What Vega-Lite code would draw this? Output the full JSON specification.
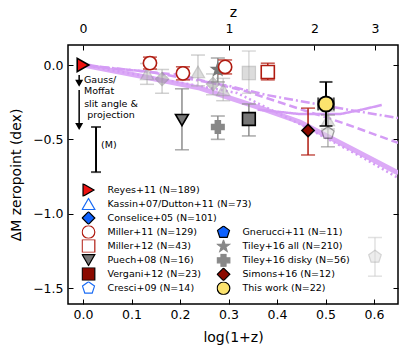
{
  "$schema": "https://vega.github.io/schema/vega-lite/v6.json",
  "width": 330,
  "height": 259,
  "autosize": {"type": "none"},
  "padding": {"left": 68, "top": 45, "right": 9, "bottom": 45},
  "background": "white",
  "config": {
    "font": "DejaVu Sans",
    "view": {"stroke": "black", "strokeWidth": 1.5},
    "axis": {"domain": false, "grid": false, "tickColor": "black", "tickWidth": 1, "tickSize": -5, "labelFontSize": 12.5, "titleFontSize": 14, "titleFontWeight": "normal", "labelColor": "black", "titleColor": "black", "labelFont": "DejaVu Sans", "titleFont": "DejaVu Sans"},
    "legend": {"labelFont": "DejaVu Sans", "labelFontSize": 9.5, "labelColor": "black", "symbolSize": 160, "symbolStrokeWidth": 1.2, "symbolOpacity": 1, "padding": 0, "rowPadding": 0, "clipHeight": 13.05, "labelOffset": 12}
  },
  "datasets": {
    "leg1": [{"s": "Reyes+11 (N=189)"}, {"s": "Kassin+07/Dutton+11 (N=73)"}, {"s": "Conselice+05 (N=101)"}, {"s": "Miller+11 (N=129)"}, {"s": "Miller+12 (N=43)"}, {"s": "Puech+08 (N=16)"}, {"s": "Vergani+12 (N=23)"}, {"s": "Cresci+09 (N=14)"}],
    "leg2": [{"s": "Gnerucci+11 (N=11)"}, {"s": "Tiley+16 all (N=210)"}, {"s": "Tiley+16 disky (N=56)"}, {"s": "Simons+16 (N=12)"}, {"s": "This work (N=22)"}],
    "lines": [
      {"l": "A", "x": 0, "y": 0}, {"l": "A", "x": 0.1175, "y": -0.074}, {"l": "A", "x": 0.241, "y": -0.155}, {"l": "A", "x": 0.365, "y": -0.289}, {"l": "A", "x": 0.447, "y": -0.383}, {"l": "A", "x": 0.551, "y": -0.558}, {"l": "A", "x": 0.65, "y": -0.726},
      {"l": "B", "x": 0, "y": 0}, {"l": "B", "x": 0.138, "y": -0.081}, {"l": "B", "x": 0.3175, "y": -0.188}, {"l": "B", "x": 0.447, "y": -0.397}, {"l": "B", "x": 0.586, "y": -0.639}, {"l": "B", "x": 0.65, "y": -0.76},
      {"l": "C", "x": 0.0144, "y": -0.007}, {"l": "C", "x": 0.2, "y": -0.067}, {"l": "C", "x": 0.334, "y": -0.175}, {"l": "C", "x": 0.536, "y": -0.39}, {"l": "C", "x": 0.65, "y": -0.524},
      {"l": "D", "x": 0, "y": 0}, {"l": "D", "x": 0.138, "y": -0.047}, {"l": "D", "x": 0.301, "y": -0.141}, {"l": "D", "x": 0.379, "y": -0.202}, {"l": "D", "x": 0.447, "y": -0.242}, {"l": "D", "x": 0.551, "y": -0.303}, {"l": "D", "x": 0.65, "y": -0.356},
      {"l": "E", "x": 0.36, "y": -0.3}, {"l": "E", "x": 0.447, "y": -0.33}, {"l": "E", "x": 0.53, "y": -0.33}, {"l": "E", "x": 0.571, "y": -0.303}, {"l": "E", "x": 0.616, "y": -0.269}
    ],
    "pts": [
      {"s": "kassin", "x": 0.132, "y": -0.06, "lo": -0.13, "hi": 0.01},
      {"s": "kassin", "x": 0.237, "y": -0.047, "lo": -0.14, "hi": 0.067},
      {"s": "kassin", "x": 0.289, "y": -0.168, "lo": -0.24, "hi": -0.09},
      {"s": "kassin", "x": 0.505, "y": -0.37, "lo": -0.43, "hi": -0.31},
      {"s": "conselice", "x": 0.163, "y": -0.094, "lo": -0.19, "hi": -0.03},
      {"s": "conselice", "x": 0.268, "y": -0.128, "lo": -0.2, "hi": -0.06},
      {"s": "cresci", "x": 0.505, "y": -0.457, "lo": -0.55, "hi": -0.336},
      {"s": "gnerucci", "x": 0.602, "y": -1.29, "lo": -1.42, "hi": -1.16},
      {"s": "other", "x": 0.342, "y": -0.054, "lo": -0.19, "hi": 0.094},
      {"s": "reyes", "x": 0, "y": 0},
      {"s": "miller11", "x": 0.138, "y": 0.013, "lo": -0.027, "hi": 0.053},
      {"s": "miller11", "x": 0.206, "y": -0.056, "lo": -0.1, "hi": -0.012},
      {"s": "tileyall", "x": 0.278, "y": -0.03, "lo": -0.114, "hi": 0.047},
      {"s": "miller11", "x": 0.293, "y": -0.013, "lo": -0.06, "hi": 0.034},
      {"s": "miller12", "x": 0.381, "y": -0.047, "lo": -0.1, "hi": 0.012},
      {"s": "puech", "x": 0.204, "y": -0.37, "lo": -0.57, "hi": -0.16},
      {"s": "vergani", "x": 0.342, "y": -0.363, "lo": -0.477, "hi": -0.262},
      {"s": "tileydisky", "x": 0.278, "y": -0.417, "lo": -0.5, "hi": -0.343},
      {"s": "simons", "x": 0.464, "y": -0.44, "lo": -0.605, "hi": -0.29},
      {"s": "thiswork", "x": 0.501, "y": -0.262, "lo": -0.41, "hi": -0.114, "xlo": 0.485, "xhi": 0.517}
    ]
  },
  "layer": [
    {
      "data": {"name": "leg1"},
      "transform": [{"filter": "false"}],
      "mark": {"type": "point", "strokeWidth": 1.2, "opacity": 1},
      "encoding": {
        "shape": {"field": "s", "type": "nominal", "scale": {"domain": ["Reyes+11 (N=189)", "Kassin+07/Dutton+11 (N=73)", "Conselice+05 (N=101)", "Miller+11 (N=129)", "Miller+12 (N=43)", "Puech+08 (N=16)", "Vergani+12 (N=23)", "Cresci+09 (N=14)"], "range": ["triangle-right", "triangle-up", "diamond", "circle", "square", "triangle-down", "square", "M0,-1L0.951,-0.309L0.588,0.809L-0.588,0.809L-0.951,-0.309Z"]}, "legend": {"title": null, "orient": "none", "legendX": 13.5, "legendY": 138.5}},
        "fill": {"field": "s", "type": "nominal", "scale": {"domain": ["Reyes+11 (N=189)", "Kassin+07/Dutton+11 (N=73)", "Conselice+05 (N=101)", "Miller+11 (N=129)", "Miller+12 (N=43)", "Puech+08 (N=16)", "Vergani+12 (N=23)", "Cresci+09 (N=14)"], "range": ["#ee1111", "#ffffff", "#0f62fe", "#ffffff", "#ffffff", "#777777", "#8b0a00", "#ffffff"]}, "legend": {"title": null, "orient": "none", "legendX": 13.5, "legendY": 138.5}},
        "stroke": {"field": "s", "type": "nominal", "scale": {"domain": ["Reyes+11 (N=189)", "Kassin+07/Dutton+11 (N=73)", "Conselice+05 (N=101)", "Miller+11 (N=129)", "Miller+12 (N=43)", "Puech+08 (N=16)", "Vergani+12 (N=23)", "Cresci+09 (N=14)"], "range": ["#000000", "#1a6cf5", "#000000", "#b01b10", "#b01b10", "#000000", "#000000", "#1a6cf5"]}, "legend": {"title": null, "orient": "none", "legendX": 13.5, "legendY": 138.5}}
      }
    },
    {
      "data": {"name": "leg2"},
      "transform": [{"filter": "false"}],
      "mark": {"type": "point", "strokeWidth": 1.2, "opacity": 1},
      "encoding": {
        "shape": {"field": "s", "type": "nominal", "scale": {"domain": ["Gnerucci+11 (N=11)", "Tiley+16 all (N=210)", "Tiley+16 disky (N=56)", "Simons+16 (N=12)", "This work (N=22)"], "range": ["M0,-1L0.951,-0.309L0.588,0.809L-0.588,0.809L-0.951,-0.309Z", "M0,-1L0.235,-0.324L0.951,-0.309L0.38,0.124L0.588,0.809L0,0.4L-0.588,0.809L-0.38,0.124L-0.951,-0.309L-0.235,-0.324Z", "cross", "diamond", "circle"]}, "legend": {"title": null, "orient": "none", "legendX": 148.5, "legendY": 180.8}},
        "fill": {"field": "s", "type": "nominal", "scale": {"domain": ["Gnerucci+11 (N=11)", "Tiley+16 all (N=210)", "Tiley+16 disky (N=56)", "Simons+16 (N=12)", "This work (N=22)"], "range": ["#0f62fe", "#888888", "#888888", "#8b0a00", "#fce36e"]}, "legend": {"title": null, "orient": "none", "legendX": 148.5, "legendY": 180.8}},
        "stroke": {"field": "s", "type": "nominal", "scale": {"domain": ["Gnerucci+11 (N=11)", "Tiley+16 all (N=210)", "Tiley+16 disky (N=56)", "Simons+16 (N=12)", "This work (N=22)"], "range": ["#000000", "#888888", "#888888", "#000000", "#000000"]}, "legend": {"title": null, "orient": "none", "legendX": 148.5, "legendY": 180.8}}
      }
    },
    {
      "data": {"name": "lines"},
      "transform": [{"filter": "datum.l == 'A'"}],
      "mark": {"type": "line", "strokeWidth": 5, "color": "#dcaaf7", "clip": true},
      "encoding": {
        "x": {"field": "x", "type": "quantitative", "scale": {"domain": [-0.031, 0.6495], "nice": false, "zero": false}, "axis": {"orient": "bottom", "values": [0, 0.1, 0.2, 0.3, 0.4, 0.5, 0.6], "format": ".1f", "title": "log(1+z)", "labelPadding": 9, "titlePadding": 10}},
        "y": {"field": "y", "type": "quantitative", "scale": {"domain": [-1.607, 0.1345], "nice": false, "zero": false}, "axis": {"orient": "left", "values": [-1.5, -1, -0.5, 0], "format": ".1f", "title": "ΔM zeropoint (dex)", "labelPadding": 10, "titlePadding": 9}}
      }
    },
    {
      "data": {"name": "lines"},
      "transform": [{"filter": "datum.l != 'A'"}],
      "mark": {"type": "line", "strokeWidth": 2.5, "color": "#d49cf5", "clip": true},
      "encoding": {
        "x": {"field": "x", "type": "quantitative", "axis": null},
        "y": {"field": "y", "type": "quantitative", "axis": null},
        "strokeDash": {"field": "l", "type": "nominal", "scale": {"domain": ["B", "C", "D", "E"], "range": [[2, 3], [8, 4], [9, 3, 2, 3], [1, 0]]}, "legend": null}
      }
    },
    {
      "data": {"name": "pts"},
      "transform": [{"filter": "indexof(['kassin','conselice','cresci','gnerucci','other'], datum.s) >= 0"}],
      "mark": {"type": "rule", "strokeWidth": 1.5, "opacity": 0.55},
      "encoding": {
        "x": {"field": "x", "type": "quantitative", "axis": null},
        "y": {"field": "lo", "type": "quantitative", "axis": null},
        "y2": {"field": "hi"},
        "color": {"field": "s", "type": "nominal", "scale": {"domain": ["kassin", "conselice", "cresci", "gnerucci", "other", "miller11", "miller12", "puech", "vergani", "tileyall", "tileydisky", "simons", "thiswork"], "range": ["#aaaaaa", "#aaaaaa", "#777777", "#c8c8c8", "#bbbbbb", "#b01b10", "#b01b10", "#8c8c8c", "#8c8c8c", "#8c8c8c", "#8c8c8c", "#b01b10", "#000000"]}, "legend": null}
      }
    },
    {
      "data": {"name": "pts"},
      "transform": [{"filter": "indexof(['kassin','conselice','cresci','gnerucci','other'], datum.s) >= 0"}],
      "mark": {"type": "tick", "orient": "horizontal", "size": 14, "thickness": 1.5, "opacity": 0.55},
      "encoding": {
        "x": {"field": "x", "type": "quantitative", "axis": null},
        "y": {"field": "lo", "type": "quantitative", "axis": null},
        "color": {"field": "s", "type": "nominal", "scale": {"domain": ["kassin", "conselice", "cresci", "gnerucci", "other", "miller11", "miller12", "puech", "vergani", "tileyall", "tileydisky", "simons", "thiswork"], "range": ["#aaaaaa", "#aaaaaa", "#777777", "#c8c8c8", "#bbbbbb", "#b01b10", "#b01b10", "#8c8c8c", "#8c8c8c", "#8c8c8c", "#8c8c8c", "#b01b10", "#000000"]}, "legend": null}
      }
    },
    {
      "data": {"name": "pts"},
      "transform": [{"filter": "indexof(['kassin','conselice','cresci','gnerucci','other'], datum.s) >= 0"}],
      "mark": {"type": "tick", "orient": "horizontal", "size": 14, "thickness": 1.5, "opacity": 0.55},
      "encoding": {
        "x": {"field": "x", "type": "quantitative", "axis": null},
        "y": {"field": "hi", "type": "quantitative", "axis": null},
        "color": {"field": "s", "type": "nominal", "scale": {"domain": ["kassin", "conselice", "cresci", "gnerucci", "other", "miller11", "miller12", "puech", "vergani", "tileyall", "tileydisky", "simons", "thiswork"], "range": ["#aaaaaa", "#aaaaaa", "#777777", "#c8c8c8", "#bbbbbb", "#b01b10", "#b01b10", "#8c8c8c", "#8c8c8c", "#8c8c8c", "#8c8c8c", "#b01b10", "#000000"]}, "legend": null}
      }
    },
    {
      "data": {"name": "pts"},
      "transform": [{"filter": "indexof(['kassin','conselice','cresci','gnerucci','other'], datum.s) >= 0"}],
      "mark": {"type": "point", "strokeWidth": 1.3, "opacity": 0.5, "size": 170},
      "encoding": {
        "x": {"field": "x", "type": "quantitative", "axis": null},
        "y": {"field": "y", "type": "quantitative", "axis": null},
        "shape": {"field": "s", "type": "nominal", "scale": {"domain": ["kassin", "conselice", "cresci", "gnerucci", "other"], "range": ["triangle-up", "diamond", "M0,-1L0.951,-0.309L0.588,0.809L-0.588,0.809L-0.951,-0.309Z", "M0,-1L0.951,-0.309L0.588,0.809L-0.588,0.809L-0.951,-0.309Z", "square"]}, "legend": null},
        "fill": {"field": "s", "type": "nominal", "scale": {"domain": ["kassin", "conselice", "cresci", "gnerucci", "other"], "range": ["#bbbbbb", "#999999", "#dddddd", "#dddddd", "#bbbbbb"]}, "legend": null},
        "stroke": {"field": "s", "type": "nominal", "scale": {"domain": ["kassin", "conselice", "cresci", "gnerucci", "other"], "range": ["#999999", "#888888", "#444444", "#aaaaaa", "#999999"]}, "legend": null}
      }
    },
    {
      "mark": {"type": "rule", "strokeDash": [2, 4.6], "strokeWidth": 1.8, "color": "black"},
      "encoding": {
        "x": {"datum": 0, "type": "quantitative", "axis": null},
        "x2": {"datum": 0.6495},
        "y": {"datum": 0, "type": "quantitative", "axis": null}
      }
    },
    {
      "data": {"name": "pts"},
      "transform": [{"filter": "indexof(['kassin','conselice','cresci','gnerucci','other','thiswork','reyes'], datum.s) < 0"}],
      "mark": {"type": "rule", "strokeWidth": 1.5},
      "encoding": {
        "x": {"field": "x", "type": "quantitative", "axis": null},
        "y": {"field": "lo", "type": "quantitative", "axis": null},
        "y2": {"field": "hi"},
        "color": {"field": "s", "type": "nominal", "scale": {"domain": ["kassin", "conselice", "cresci", "gnerucci", "other", "miller11", "miller12", "puech", "vergani", "tileyall", "tileydisky", "simons", "thiswork"], "range": ["#aaaaaa", "#aaaaaa", "#777777", "#c8c8c8", "#bbbbbb", "#b01b10", "#b01b10", "#8c8c8c", "#8c8c8c", "#8c8c8c", "#8c8c8c", "#b01b10", "#000000"]}, "legend": null}
      }
    },
    {
      "data": {"name": "pts"},
      "transform": [{"filter": "indexof(['kassin','conselice','cresci','gnerucci','other','thiswork','reyes'], datum.s) < 0"}],
      "mark": {"type": "tick", "orient": "horizontal", "size": 14, "thickness": 1.6},
      "encoding": {
        "x": {"field": "x", "type": "quantitative", "axis": null},
        "y": {"field": "lo", "type": "quantitative", "axis": null},
        "color": {"field": "s", "type": "nominal", "scale": {"domain": ["kassin", "conselice", "cresci", "gnerucci", "other", "miller11", "miller12", "puech", "vergani", "tileyall", "tileydisky", "simons", "thiswork"], "range": ["#aaaaaa", "#aaaaaa", "#777777", "#c8c8c8", "#bbbbbb", "#b01b10", "#b01b10", "#8c8c8c", "#8c8c8c", "#8c8c8c", "#8c8c8c", "#b01b10", "#000000"]}, "legend": null}
      }
    },
    {
      "data": {"name": "pts"},
      "transform": [{"filter": "indexof(['kassin','conselice','cresci','gnerucci','other','thiswork','reyes'], datum.s) < 0"}],
      "mark": {"type": "tick", "orient": "horizontal", "size": 14, "thickness": 1.6},
      "encoding": {
        "x": {"field": "x", "type": "quantitative", "axis": null},
        "y": {"field": "hi", "type": "quantitative", "axis": null},
        "color": {"field": "s", "type": "nominal", "scale": {"domain": ["kassin", "conselice", "cresci", "gnerucci", "other", "miller11", "miller12", "puech", "vergani", "tileyall", "tileydisky", "simons", "thiswork"], "range": ["#aaaaaa", "#aaaaaa", "#777777", "#c8c8c8", "#bbbbbb", "#b01b10", "#b01b10", "#8c8c8c", "#8c8c8c", "#8c8c8c", "#8c8c8c", "#b01b10", "#000000"]}, "legend": null}
      }
    },
    {
      "data": {"name": "pts"},
      "transform": [{"filter": "indexof(['kassin','conselice','cresci','gnerucci','other','thiswork'], datum.s) < 0"}],
      "mark": {"type": "point", "strokeWidth": 1.6, "opacity": 1},
      "encoding": {
        "x": {"field": "x", "type": "quantitative", "axis": {"orient": "top", "values": [0, 0.30103, 0.47712, 0.60206], "labelExpr": "format(pow(10, datum.value) - 1, '.0f')", "title": "z", "labelPadding": 14.5, "titlePadding": 3}},
        "y": {"field": "y", "type": "quantitative", "axis": {"orient": "right", "values": [-1.5, -1, -0.5, 0], "labels": false, "title": null}},
        "shape": {"field": "s", "type": "nominal", "scale": {"domain": ["reyes", "miller11", "miller12", "puech", "vergani", "tileyall", "tileydisky", "simons"], "range": ["triangle-right", "circle", "square", "triangle-down", "square", "M0,-1L0.235,-0.324L0.951,-0.309L0.38,0.124L0.588,0.809L0,0.4L-0.588,0.809L-0.38,0.124L-0.951,-0.309L-0.235,-0.324Z", "cross", "diamond"]}, "legend": null},
        "fill": {"field": "s", "type": "nominal", "scale": {"domain": ["reyes", "miller11", "miller12", "puech", "vergani", "tileyall", "tileydisky", "simons"], "range": ["#ee1111", "#ffffff", "#ffffff", "#777777", "#777777", "#777777", "#888888", "#8b0a00"]}, "legend": null},
        "stroke": {"field": "s", "type": "nominal", "scale": {"domain": ["reyes", "miller11", "miller12", "puech", "vergani", "tileyall", "tileydisky", "simons"], "range": ["#000000", "#b01b10", "#b01b10", "#000000", "#000000", "#777777", "#888888", "#000000"]}, "legend": null},
        "size": {"field": "s", "type": "nominal", "scale": {"domain": ["reyes", "miller11", "miller12", "puech", "vergani", "tileyall", "tileydisky", "simons"], "range": [180, 150, 150, 150, 150, 200, 120, 260]}, "legend": null}
      }
    },
    {
      "data": {"name": "pts"},
      "transform": [{"filter": "datum.s == 'thiswork'"}],
      "mark": {"type": "rule", "strokeWidth": 2, "color": "black"},
      "encoding": {
        "x": {"field": "x", "type": "quantitative", "axis": null},
        "y": {"field": "lo", "type": "quantitative", "axis": null},
        "y2": {"field": "hi"}
      }
    },
    {
      "data": {"name": "pts"},
      "transform": [{"filter": "datum.s == 'thiswork'"}],
      "mark": {"type": "rule", "strokeWidth": 2, "color": "black"},
      "encoding": {
        "x": {"field": "xlo", "type": "quantitative", "axis": null},
        "x2": {"field": "xhi"},
        "y": {"field": "y", "type": "quantitative", "axis": null}
      }
    },
    {
      "data": {"name": "pts"},
      "transform": [{"filter": "datum.s == 'thiswork'"}],
      "mark": {"type": "tick", "orient": "horizontal", "size": 13, "thickness": 2, "color": "black"},
      "encoding": {
        "x": {"field": "x", "type": "quantitative", "axis": null},
        "y": {"field": "lo", "type": "quantitative", "axis": null}
      }
    },
    {
      "data": {"name": "pts"},
      "transform": [{"filter": "datum.s == 'thiswork'"}],
      "mark": {"type": "tick", "orient": "horizontal", "size": 13, "thickness": 2, "color": "black"},
      "encoding": {
        "x": {"field": "x", "type": "quantitative", "axis": null},
        "y": {"field": "hi", "type": "quantitative", "axis": null}
      }
    },
    {
      "data": {"name": "pts"},
      "transform": [{"filter": "datum.s == 'thiswork'"}],
      "mark": {"type": "tick", "orient": "vertical", "size": 13, "thickness": 2, "color": "black"},
      "encoding": {
        "x": {"field": "xlo", "type": "quantitative", "axis": null},
        "y": {"field": "y", "type": "quantitative", "axis": null}
      }
    },
    {
      "data": {"name": "pts"},
      "transform": [{"filter": "datum.s == 'thiswork'"}],
      "mark": {"type": "tick", "orient": "vertical", "size": 13, "thickness": 2, "color": "black"},
      "encoding": {
        "x": {"field": "xhi", "type": "quantitative", "axis": null},
        "y": {"field": "y", "type": "quantitative", "axis": null}
      }
    },
    {
      "data": {"name": "pts"},
      "transform": [{"filter": "datum.s == 'thiswork'"}],
      "mark": {"type": "point", "shape": "circle", "size": 230, "fill": "#fce36e", "stroke": "black", "strokeWidth": 2, "opacity": 1},
      "encoding": {
        "x": {"field": "x", "type": "quantitative", "axis": null},
        "y": {"field": "y", "type": "quantitative", "axis": null}
      }
    },
    {
      "data": {"values": [{"x": -0.008, "y1": -0.067, "h": -0.123}, {"x": -0.008, "y1": -0.168, "h": -0.414}]},
      "mark": {"type": "rule", "strokeWidth": 1.5, "color": "black"},
      "encoding": {
        "x": {"field": "x", "type": "quantitative", "axis": null},
        "y": {"field": "y1", "type": "quantitative", "axis": null},
        "y2": {"field": "h"}
      }
    },
    {
      "data": {"values": [{"x": -0.008, "h": -0.123}, {"x": -0.008, "h": -0.414}]},
      "mark": {"type": "point", "shape": "triangle-down", "size": 64, "filled": true, "color": "black", "opacity": 1},
      "encoding": {
        "x": {"field": "x", "type": "quantitative", "axis": null},
        "y": {"field": "h", "type": "quantitative", "axis": null}
      }
    },
    {
      "data": {"values": [{"x": 0.0268, "lo": -0.72, "hi": -0.417}]},
      "mark": {"type": "rule", "strokeWidth": 2, "color": "black"},
      "encoding": {
        "x": {"field": "x", "type": "quantitative", "axis": null},
        "y": {"field": "lo", "type": "quantitative", "axis": null},
        "y2": {"field": "hi"}
      }
    },
    {
      "data": {"values": [{"x": 0.0268, "v": -0.72}, {"x": 0.0268, "v": -0.417}]},
      "mark": {"type": "tick", "orient": "horizontal", "size": 10, "thickness": 2, "color": "black"},
      "encoding": {
        "x": {"field": "x", "type": "quantitative", "axis": null},
        "y": {"field": "v", "type": "quantitative", "axis": null}
      }
    },
    {
      "data": {"values": [{"t": "Gauss/", "x": 0.002, "y": -0.1}, {"t": "Moffat", "x": 0.002, "y": -0.175}, {"t": "(M)", "x": 0.037, "y": -0.538}]},
      "mark": {"type": "text", "align": "left", "baseline": "middle", "fontSize": 9.5, "font": "DejaVu Sans", "color": "black"},
      "encoding": {
        "x": {"field": "x", "type": "quantitative", "axis": null},
        "y": {"field": "y", "type": "quantitative", "axis": null},
        "text": {"field": "t"}
      }
    },
    {
      "data": {"values": [{"t": "slit angle &", "x": 0.0577, "y": -0.262}, {"t": "projection", "x": 0.0577, "y": -0.336}]},
      "mark": {"type": "text", "align": "center", "baseline": "middle", "fontSize": 9.5, "font": "DejaVu Sans", "color": "black"},
      "encoding": {
        "x": {"field": "x", "type": "quantitative", "axis": null},
        "y": {"field": "y", "type": "quantitative", "axis": null},
        "text": {"field": "t"}
      }
    }
  ],
  "resolve": {
    "scale": {"shape": "independent", "fill": "independent", "stroke": "independent", "size": "independent"},
    "legend": {"shape": "independent", "fill": "independent", "stroke": "independent"},
    "axis": {"x": "independent", "y": "independent"}
  }
}
